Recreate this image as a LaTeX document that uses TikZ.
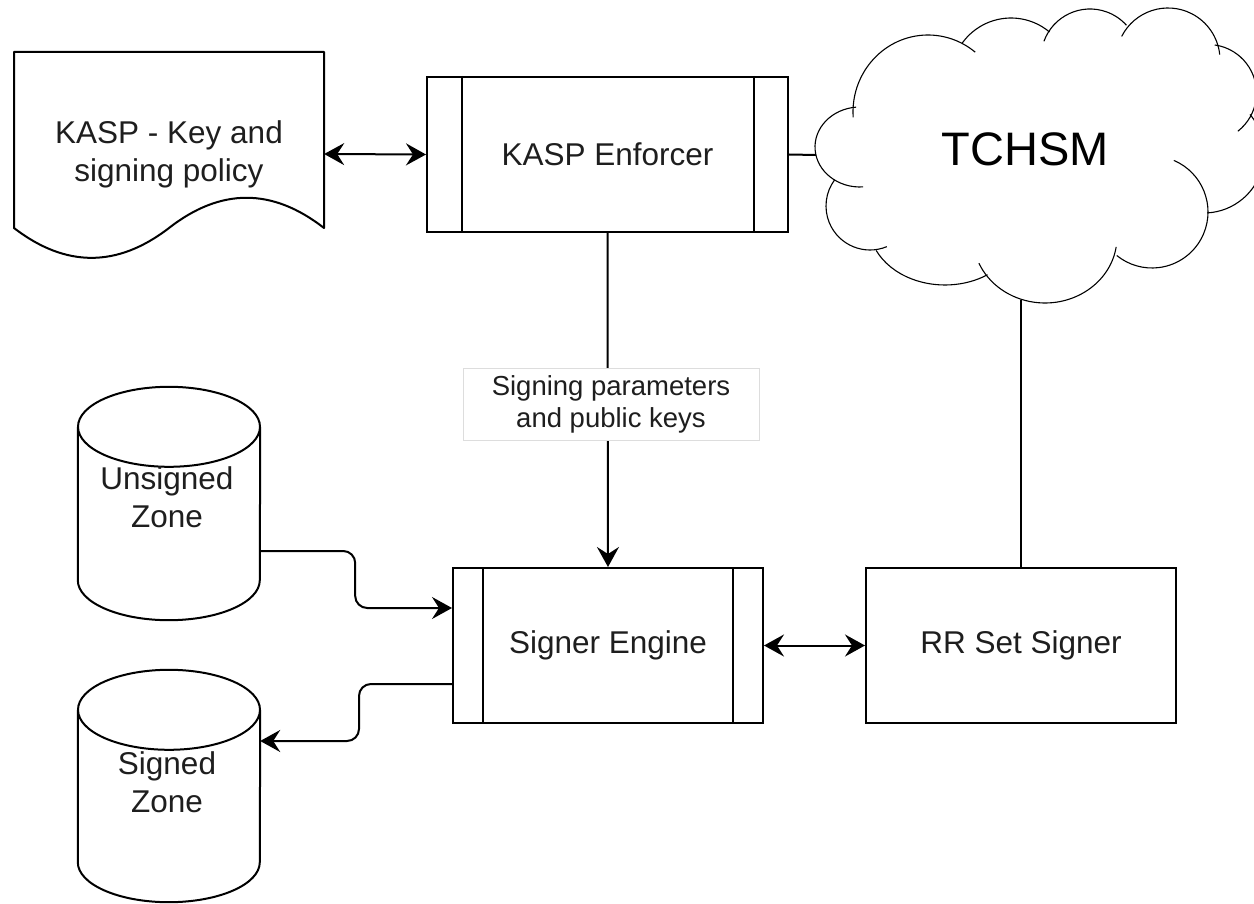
\documentclass[tikz,border=0pt]{standalone}
\usepackage{fontspec}
\setmainfont{Liberation Sans}
\usetikzlibrary{arrows.meta,calc}
\definecolor{txtc}{HTML}{1E1E1E}
\definecolor{lblborder}{HTML}{DDDDDD}
\newcommand{\fsBox}{\fontsize{31.5pt}{38pt}\selectfont}
\newcommand{\fsLbl}{\fontsize{27.5pt}{32pt}\selectfont}
\newcommand{\fsBig}{\fontsize{47pt}{56pt}\selectfont}
\newcommand{\mydbshape}[1]{%
  \draw[shapeline] ([yshift=-40pt]#1.north west) -- ([yshift=40pt]#1.south west)
    arc[start angle=180, end angle=0, x radius=91, y radius=40] -- ([yshift=-40pt]#1.north east);
  \draw[shapeline] ([yshift=-40pt]#1.north) ellipse[x radius=91, y radius=40];
}
\begin{document}
\begin{tikzpicture}[x=1pt, y=-1pt,
  shapeline/.style={line width=2pt, draw=black, line join=round},
  conn/.style={line width=2pt, draw=black},
  cloudline/.style={line width=1.1pt, draw=black},
  arr/.style={-{Stealth[length=20pt, width=22pt, inset=7pt]}},
  darr/.style={{Stealth[length=20pt, width=22pt, inset=7pt]}-{Stealth[length=20pt, width=22pt, inset=7pt]}},
  procbox/.style={draw, line width=2pt, minimum height=155pt, inner sep=0pt, font=\fsBox, text=txtc},
  txtnode/.style={font=\fsBox, text=txtc, align=center, inner sep=0pt},
  lblbox/.style={draw=lblborder, fill=white, line width=1pt, minimum width=296pt, minimum height=72pt, font=\fsLbl, align=center, text=txtc, inner sep=0pt}
]
\useasboundingbox (0,0) rectangle (1254,904);
\clip (0,0) rectangle (1254,904);

% Document shape: KASP policy
\draw[shapeline] (14,52) -- (324,52) -- (324,228)
  .. controls (272.3,187.7) and (220.7,187.7) .. (169,228)
  .. controls (117.3,267.8) and (65.7,267.8) .. (14,228) -- cycle;
\node[txtnode, minimum width=310pt] (kasp) at (169,154) {KASP - Key and\\signing policy};

% Process boxes
\node[procbox, minimum width=361pt] (enf) at (607.5,154.5) {KASP Enforcer};
\draw[shapeline] ([xshift=36pt]enf.north west) -- ([xshift=36pt]enf.south west);
\draw[shapeline] ([xshift=-35pt]enf.north east) -- ([xshift=-35pt]enf.south east);

\node[procbox, minimum width=310pt] (sig) at (608,645.5) {Signer Engine};
\draw[shapeline] ([xshift=31pt]sig.north west) -- ([xshift=31pt]sig.south west);
\draw[shapeline] ([xshift=-31pt]sig.north east) -- ([xshift=-31pt]sig.south east);

\node[procbox, minimum width=310pt] (rr) at (1021,645.5) {RR Set Signer};

% Databases
\node[minimum width=182pt, minimum height=233pt, inner sep=0pt] (uz) at (169,503.5) {};
\node[minimum width=182pt, minimum height=232pt, inner sep=0pt] (sz) at (169,786) {};
\mydbshape{uz}
\mydbshape{sz}
\node[txtnode] (uzt) at (167,497) {Unsigned\\Zone};
\node[txtnode] (szt) at (167,782) {Signed\\Zone};

% Cloud
\draw[cloudline] (860,147) ++(86:45 and 40) arc[start angle=86, end angle=265, x radius=45, y radius=40];
\draw[cloudline] (928,112) ++(176:75 and 77) arc[start angle=176, end angle=309, x radius=75, y radius=77];
\draw[cloudline] (1011,78) ++(215.5:60 and 60) arc[start angle=215.5, end angle=310, x radius=60, y radius=60];
\draw[cloudline] (1090,58) ++(200:49 and 49) arc[start angle=200, end angle=318, x radius=49, y radius=49];
\draw[cloudline] (1168,60) ++(207:52 and 52) arc[start angle=207, end angle=354, x radius=52, y radius=52];
\draw[cloudline] (1208,93) ++(278:48.5 and 48.5) arc[start angle=278, end angle=412, x radius=48.5, y radius=48.5];
\draw[cloudline] (1204,153) ++(320:60 and 60) arc[start angle=320, end angle=447, x radius=60, y radius=60];
\draw[cloudline] (1152,212) ++(293:56 and 56) arc[start angle=293, end angle=489, x radius=56, y radius=56];
\draw[cloudline] (1045,237) ++(8.6:72 and 66) arc[start angle=8.6, end angle=156.6, x radius=72, y radius=66];
\draw[cloudline] (945,225) ++(56:76 and 60) arc[start angle=56, end angle=155, x radius=76, y radius=60];
\draw[cloudline] (870,206) ++(67.5:44 and 44) arc[start angle=67.5, end angle=216.6, x radius=44, y radius=44];
\node[font=\fsBig, text=black, inner sep=0pt] (tchsm) at (1025.5,149) {TCHSM};
\coordinate (cloudL) at (816,155);
\coordinate (cloudB) at (1021,300);

% Connectors
\draw[conn, darr] (kasp.east) -- (enf.west);
\draw[conn] (enf.east) -- (cloudL);
\draw[conn, arr] (enf.south) -- (sig.north);
\node[lblbox] (lbl) at (611,404) {Signing parameters\\and public keys};
\draw[conn] (cloudB) -- (rr.north);
\draw[conn, darr] (sig.east) -- (rr.west);
\draw[conn, arr, rounded corners=12pt] ([yshift=-47.5pt]uz.east) -- ++(95,0) |- ([yshift=37.5pt]sig.west);
\draw[conn, arr, rounded corners=12pt] ([yshift=-38.5pt]sig.west) -- ++(-93,0) |- ([yshift=45pt]sz.east);
\end{tikzpicture}
\end{document}
